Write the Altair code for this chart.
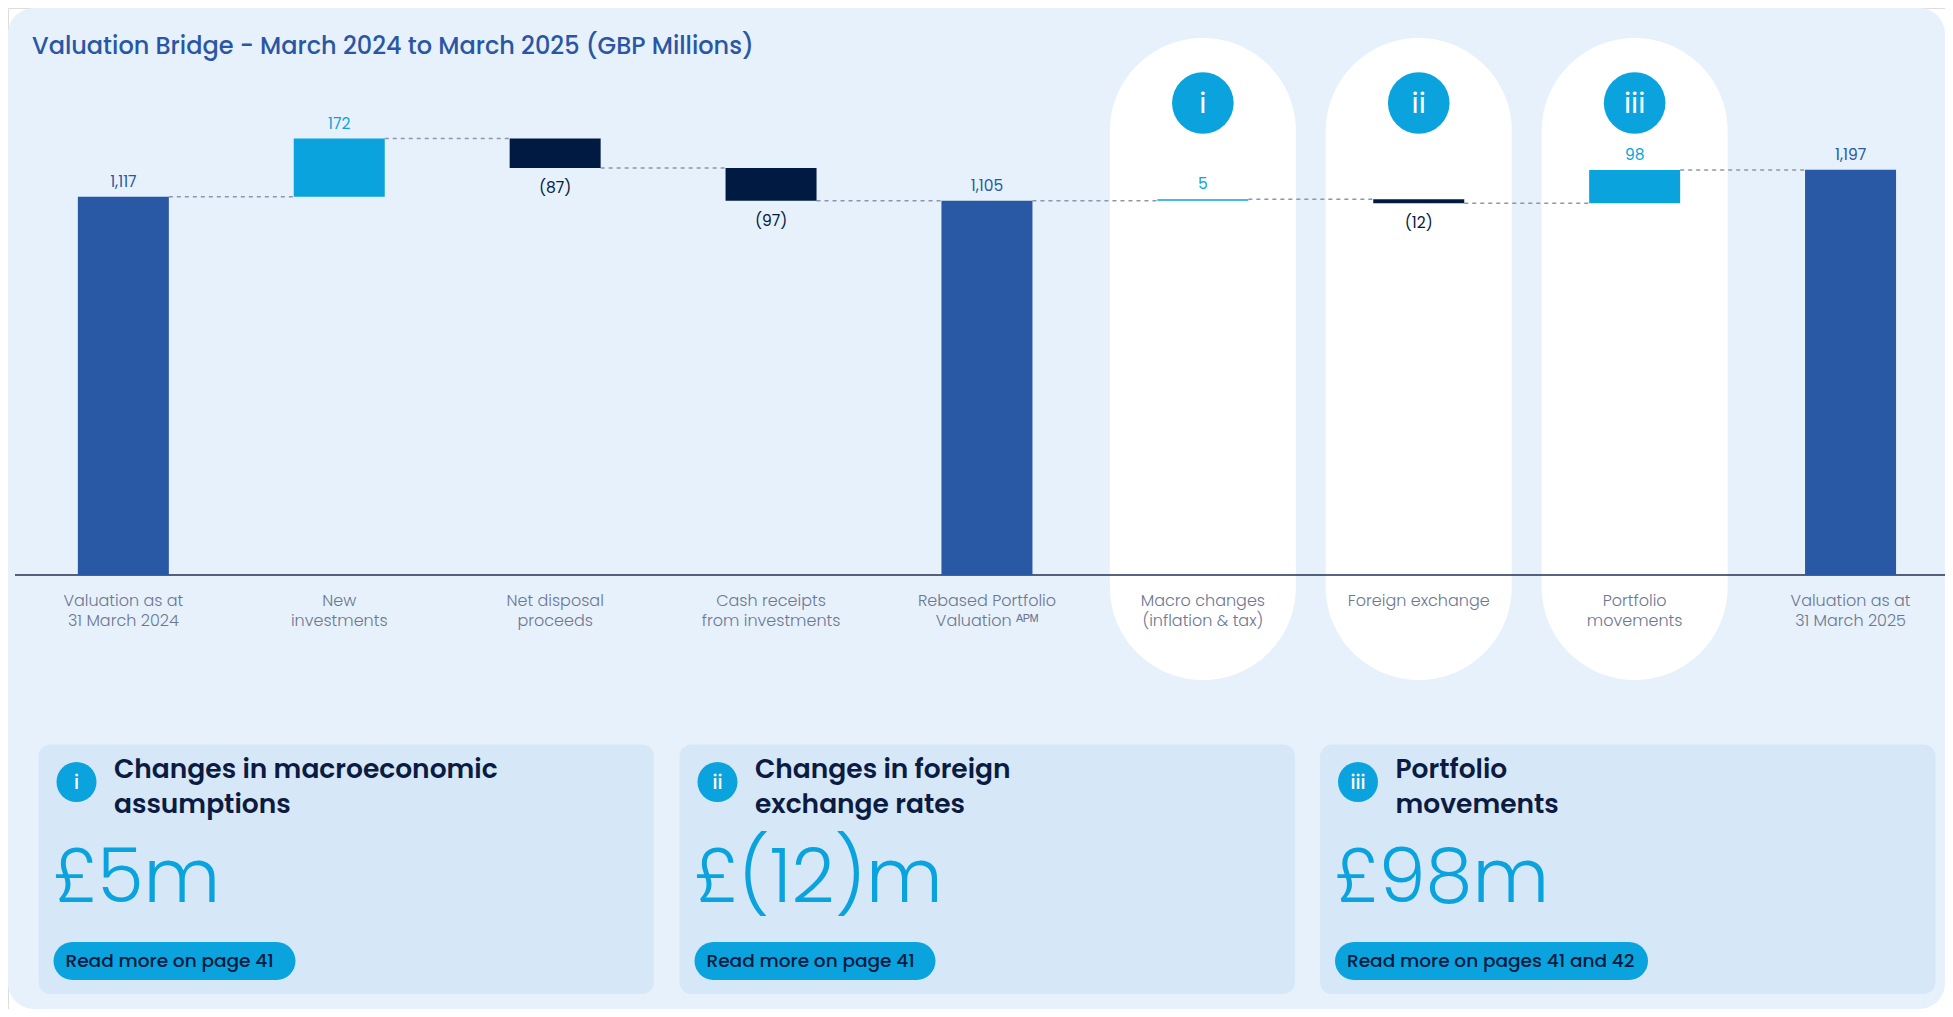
import altair as alt
import pandas as pd

# ---------------- data ----------------
keys = ["v24", "new", "disp", "cash", "rebased", "macro", "fx", "port", "v25"]
cat_labels = [
    "Valuation as at\n31 March 2024",
    "New\ninvestments",
    "Net disposal\nproceeds",
    "Cash receipts\nfrom investments",
    "Rebased Portfolio\nValuation \u1d2c\u1d3e\u1d39",
    "Macro changes\n(inflation & tax)",
    "Foreign exchange",
    "Portfolio\nmovements",
    "Valuation as at\n31 March 2025",
]
values = [1117, 172, -87, -97, 1105, 5, -12, 98, 1197]
kinds = ["total", "delta", "delta", "delta", "total", "delta", "delta", "delta", "total"]
value_text = ["1,117", "172", "(87)", "(97)", "1,105", "5", "(12)", "98", "1,197"]
highlight = ["", "", "", "", "", "i", "ii", "iii", ""]

title = "Valuation Bridge - March 2024 to March 2025 (GBP Millions)"
card_numerals = ["i", "ii", "iii"]
card_headings = ["Changes in macroeconomic\nassumptions", "Changes in foreign\nexchange rates", "Portfolio\nmovements"]
card_values = ["\u00a35m", "\u00a3(12)m", "\u00a398m"]
card_links = ["Read more on page 41", "Read more on page 41", "Read more on pages 41 and 42"]

# ---------------- styles / layout ----------------
FONT = "Poppins, Inter, sans-serif"
BG = "#E7F1FB"
CARD = "#D6E7F7"
BLUE = "#2958A5"
LIGHT = "#0AA3DD"
NAVY = "#001A41"
HEAD = "#0B1B42"
GREY = "#6C7793"
DASH = "#8E96AD"
W, H = 1937, 1001

card_x0 = [30.5, 671.5, 1312.0]
card_w = 615.5
btn_w = [242, 241, 313]

# ---------------- waterfall table ----------------
rows = []
cum = 0
for k, lab, v, kd, t, h in zip(keys, cat_labels, values, kinds, value_text, highlight):
    if kd == "total":
        start, end = 0, v
    else:
        start, end = cum, cum + v
    cum = end
    colkind = "total" if kd == "total" else ("up" if v >= 0 else "down")
    rows.append(dict(key=k, label=lab, value=v, start=start, end=end,
                     lo=min(start, end), hi=max(start, end), kind=colkind, text=t, hl=h))
df = pd.DataFrame(rows)
df["next_key"] = df["key"].shift(-1)
conn = df.iloc[:-1].copy()
conn["level"] = conn["end"]

xscale = alt.Scale(domain=keys, range=[7.4, 1950.5], paddingInner=0.5785, paddingOuter=0.28925)
yscale = alt.Scale(domain=[0, 1000], range=[567, 228.4], nice=False, zero=False)
cscale = alt.Scale(domain=["total", "up", "down"], range=[BLUE, LIGHT, NAVY])

X = alt.X("key:N", scale=xscale, axis=None)

one = pd.DataFrame({"a": [0]})

panel = alt.Chart(one).mark_rect(color=BG, cornerRadius=26).encode(
    x=alt.value(0), x2=alt.value(W), y=alt.value(0), y2=alt.value(H))

pills = alt.Chart(df).transform_filter("datum.hl != ''").mark_bar(
    width=186, cornerRadius=93, color="white").encode(
    x=X, y=alt.value(30), y2=alt.value(672))

axisline = alt.Chart(one).mark_rule(color="#223152", strokeWidth=1.6).encode(
    x=alt.value(7), x2=alt.value(W), y=alt.value(567))

connectors = alt.Chart(conn).mark_rule(
    strokeDash=[4, 4], strokeWidth=1.5, color=DASH, xOffset=45.5, x2Offset=-45.5).encode(
    x=alt.X("key:N", scale=xscale, axis=None, bandPosition=0.5),
    x2=alt.X2("next_key"),
    y=alt.Y("level:Q", scale=yscale, axis=None))

bars = alt.Chart(df).mark_bar(width=91).encode(
    x=X,
    y=alt.Y("lo:Q", scale=yscale, axis=None),
    y2="hi:Q",
    color=alt.Color("kind:N", scale=cscale, legend=None))

lab_up = alt.Chart(df).transform_filter("datum.value >= 0").mark_text(
    baseline="bottom", dy=-7, fontSize=15.5, font=FONT).encode(
    x=X, y=alt.Y("hi:Q", scale=yscale, axis=None), text="text:N",
    color=alt.Color("kind:N", scale=cscale, legend=None))

lab_dn = alt.Chart(df).transform_filter("datum.value < 0").mark_text(
    baseline="top", dy=13, fontSize=15.5, font=FONT).encode(
    x=X, y=alt.Y("lo:Q", scale=yscale, axis=None), text="text:N",
    color=alt.Color("kind:N", scale=cscale, legend=None))

icons = alt.Chart(df).transform_filter("datum.hl != ''").mark_circle(
    size=3800, color=LIGHT, opacity=1).encode(x=X, y=alt.value(95))

icon_txt = alt.Chart(df).transform_filter("datum.hl != ''").mark_text(
    color="white", fontSize=29, font=FONT, baseline="middle", dy=1).encode(
    x=X, y=alt.value(95), text="hl:N")

cat_txt = alt.Chart(df).mark_text(
    lineBreak="\n", baseline="alphabetic", align="center", fontSize=16,
    fontWeight=300, lineHeight=20, color=GREY, font=FONT).encode(
    x=X, y=alt.value(598), text="label:N")

title_txt = alt.Chart(one).mark_text(
    text=title, align="left", baseline="alphabetic", fontSize=24, fontWeight=500,
    color="#2A56A4", font=FONT).encode(x=alt.value(24), y=alt.value(46))

# ---------------- cards ----------------
cards = pd.DataFrame(dict(num=card_numerals, head=card_headings, val=card_values, link=card_links))
cards["x0"] = card_x0
cards["x1"] = cards["x0"] + card_w
cards["ix"] = cards["x0"] + 38
cards["hx"] = cards["x0"] + 75.5
cards["vx"] = cards["x0"] + 14
cards["bx0"] = cards["x0"] + 15
cards["bx1"] = cards["bx0"] + pd.Series(btn_w)
cards["tx"] = cards["x0"] + 27

card_rect = alt.Chart(cards).mark_rect(color=CARD, cornerRadius=12).encode(
    x=alt.X("x0:Q", scale=None), x2="x1:Q", y=alt.value(736.5), y2=alt.value(986))

card_icon = alt.Chart(cards).mark_circle(size=1600, color=LIGHT, opacity=1).encode(
    x=alt.X("ix:Q", scale=None), y=alt.value(774))

card_num = alt.Chart(cards).mark_text(color="white", fontSize=19, fontWeight=500,
                                      font=FONT, baseline="middle", dy=1).encode(
    x=alt.X("ix:Q", scale=None), y=alt.value(774), text="num:N")

card_head = alt.Chart(cards).mark_text(
    lineBreak="\n", align="left", baseline="alphabetic", fontSize=26.5, fontWeight=600,
    lineHeight=34.5, color=HEAD, font=FONT).encode(
    x=alt.X("hx:Q", scale=None), y=alt.value(770), text="head:N")

card_val = alt.Chart(cards).mark_text(
    align="left", baseline="alphabetic", fontSize=75, fontWeight=300,
    color=LIGHT, font=FONT).encode(
    x=alt.X("vx:Q", scale=None), y=alt.value(894), text="val:N")

card_btn = alt.Chart(cards).mark_rect(color=LIGHT, cornerRadius=19).encode(
    x=alt.X("bx0:Q", scale=None), x2="bx1:Q", y=alt.value(934), y2=alt.value(972))

card_btn_txt = alt.Chart(cards).mark_text(
    align="left", baseline="middle", fontSize=18.5, fontWeight=500,
    color=NAVY, font=FONT).encode(
    x=alt.X("tx:Q", scale=None), y=alt.value(953), text="link:N")

chart = alt.layer(
    panel, pills, axisline, connectors, bars, lab_up, lab_dn, icons, icon_txt,
    cat_txt, title_txt, card_rect, card_icon, card_num, card_head, card_val,
    card_btn, card_btn_txt,
).resolve_scale(x="independent", y="independent").properties(
    width=W, height=H, padding=0, autosize=alt.AutoSizeParams(type="none"),
).configure_view(stroke=None).configure(background="white")

chart.save("out.html", embed_options={"renderer": "svg", "actions": False})
